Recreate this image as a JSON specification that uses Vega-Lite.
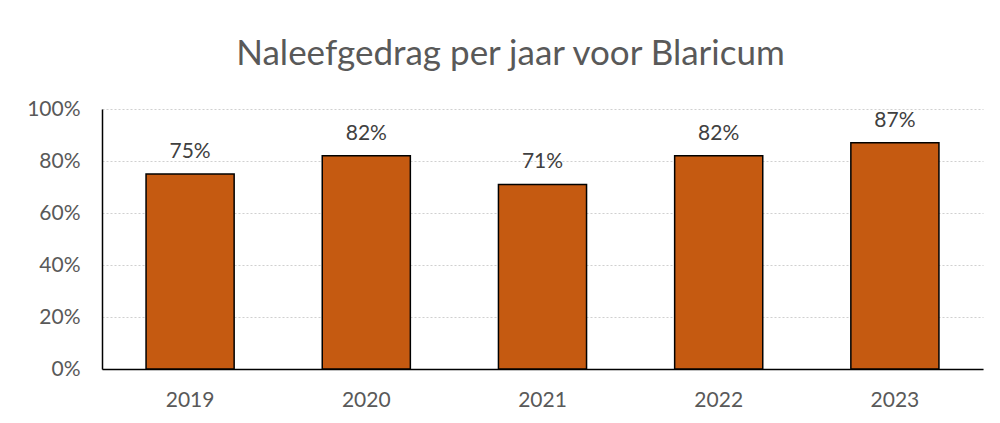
{
  "$schema": "https://vega.github.io/schema/vega-lite/v6.json",
  "autosize": "none",
  "width": 881,
  "height": 260,
  "padding": {"left": 102, "top": 109, "right": 17, "bottom": 54},
  "background": "white",
  "title": {
    "text": "Naleefgedrag per jaar voor Blaricum",
    "font": "Lato",
    "fontSize": 35,
    "fontWeight": "normal",
    "color": "#595959",
    "anchor": "middle",
    "dx": -32,
    "offset": 26
  },
  "config": {
    "view": {"stroke": null},
    "font": "Lato"
  },
  "data": {
    "values": [
      {"jaar": "2019", "waarde": 0.75},
      {"jaar": "2020", "waarde": 0.82},
      {"jaar": "2021", "waarde": 0.71},
      {"jaar": "2022", "waarde": 0.82},
      {"jaar": "2023", "waarde": 0.87}
    ]
  },
  "encoding": {
    "x": {
      "field": "jaar",
      "type": "nominal",
      "scale": {"paddingInner": 0.5, "paddingOuter": 0.25},
      "axis": {
        "title": null,
        "labelAngle": 0,
        "labelFontSize": 21,
        "labelColor": "#595959",
        "labelFont": "Lato",
        "labelPadding": 20,
        "ticks": false,
        "domainColor": "#000000",
        "domainWidth": 1.5
      }
    },
    "y": {
      "field": "waarde",
      "type": "quantitative",
      "scale": {"domain": [0, 1]},
      "axis": {
        "title": null,
        "format": ".0%",
        "values": [0, 0.2, 0.4, 0.6, 0.8, 1],
        "labelFontSize": 21,
        "labelColor": "#595959",
        "labelFont": "Lato",
        "labelPadding": 22,
        "ticks": false,
        "domainColor": "#000000",
        "domainWidth": 1.5,
        "gridColor": "#d0d0d0",
        "gridDash": [2, 2],
        "gridWidth": 1.2
      }
    }
  },
  "layer": [
    {
      "mark": {"type": "bar", "color": "#C55A11", "stroke": "#000000", "strokeWidth": 1.5}
    },
    {
      "mark": {"type": "text", "baseline": "bottom", "dy": -12, "fontSize": 21, "color": "#404040", "font": "Lato"},
      "encoding": {
        "text": {"field": "waarde", "type": "quantitative", "format": ".0%"}
      }
    }
  ]
}
